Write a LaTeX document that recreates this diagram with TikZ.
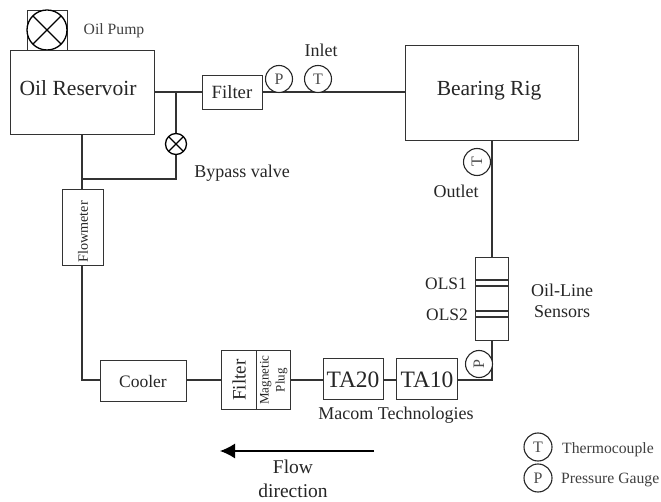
\documentclass[tikz,border=0pt]{standalone}
\usepackage{fontspec}
\setmainfont{Liberation Serif}
\usetikzlibrary{arrows.meta,positioning,calc}
\tikzset{
    pipe/.style={draw=black!80,line width=1.2pt},
    unit/.style={draw=black!80,line width=1.2pt,inner sep=0pt,anchor=north west,text=black!85,font=\fontsize{18.5}{18.5}\selectfont},
    gauge/.style={circle,draw=black!85,line width=1.1pt,fill=white,inner sep=0pt,minimum size=27pt,text=black!70,font=\fontsize{16}{16}\selectfont},
    valve/.style={circle,draw=black,line width=1.3pt,fill=white,inner sep=0pt,path picture={
        \draw [line width=1.3pt] (path picture bounding box.north west) -- (path picture bounding box.south east);
        \draw [line width=1.3pt] (path picture bounding box.north east) -- (path picture bounding box.south west);}},
    lab/.style={anchor=base,inner sep=0pt,text=black!85,font=\fontsize{18}{18}\selectfont},
    smalllab/.style={anchor=base,inner sep=0pt,text=black!75,font=\fontsize{15.7}{15.7}\selectfont},
}
\begin{document}
\begin{tikzpicture}[x=1pt,y=-1pt]
    \useasboundingbox (0,0) rectangle (661,502);

    \node [unit,minimum width=40pt,minimum height=40pt] (pumpbox) at (27,10) {};
    \node [valve,minimum size=40pt] (pump) at (47,30) {};
    \node [unit,minimum width=144pt,minimum height=84pt] (reservoir) at (10,50) {};
    \node [lab,font=\fontsize{21.6}{21.6}\selectfont] (reservoirtext) at (78,96) {Oil Reservoir};
    \node [unit,minimum width=60pt,minimum height=34pt] (filtera) at (202,75) {};
    \node [lab,font=\fontsize{18.7}{18.7}\selectfont] (filteratext) at (232,99) {Filter};
    \node [unit,minimum width=173pt,minimum height=95pt] (rig) at (405,45) {};
    \node [lab,font=\fontsize{21.5}{21.5}\selectfont] (rigtext) at (489,96) {Bearing Rig};
    \node [unit,minimum width=41pt,minimum height=76pt] (flowmeter) at (62,189) {};
    \node [lab,anchor=center,rotate=90,font=\fontsize{14.2}{14.2}\selectfont] (flowmetertext) at (83,232) {Flowmeter};
    \node [unit,minimum width=86pt,minimum height=41pt] (cooler) at (100,360) {};
    \node [lab,font=\fontsize{17.5}{17.5}\selectfont] (coolertext) at (143,387) {Cooler};
    \node [unit,minimum width=35pt,minimum height=59pt] (filterb) at (221,350) {\rotatebox{90}{\fontsize{19}{19}\selectfont Filter}};
    \node [unit,minimum width=34pt,minimum height=59pt] (plug) at (256,350) {\rotatebox{90}{\parbox{55pt}{\centering\fontsize{13}{16}\selectfont Magnetic\\Plug}}};
    \node [unit,minimum width=60pt,minimum height=41pt] (taa) at (323,358) {};
    \node [lab,font=\fontsize{23.5}{23.5}\selectfont] (taatext) at (353,388) {TA20};
    \node [unit,minimum width=61pt,minimum height=41pt] (tab) at (396,358) {};
    \node [lab,font=\fontsize{23.5}{23.5}\selectfont] (tabtext) at (427,388) {TA10};
    \node [unit,minimum width=33pt,minimum height=83pt] (sensors) at (475,257) {};

    % lines
    \coordinate (flowline) at (0,380);
    \coordinate (inline) at (0,92);
    \coordinate (leftline) at (82,0);
    \coordinate (bypasstop) at (176,92);
    \coordinate (bypassbot) at (176,179);
    \coordinate (tee) at (82,179);
    \coordinate (corner) at (82,380);
    \coordinate (bend) at (492,380);
    \coordinate (rigout) at (492,140);
    \coordinate (sensin) at (492,257);
    \coordinate (sensout) at (492,340);

    \draw [pipe] (reservoir.east |- inline) -- (filtera.west |- inline);
    \draw [pipe] (filtera.east |- inline) -- (rig.west |- inline);
    \draw [pipe] (bypasstop) -- (bypassbot) -- (tee);
    \draw [pipe] (leftline |- reservoir.south) -- (leftline |- flowmeter.north);
    \draw [pipe] (leftline |- flowmeter.south) -- (corner) -- (cooler.west |- flowline);
    \draw [pipe] (cooler.east |- flowline) -- (filterb.west |- flowline);
    \draw [pipe] (plug.east |- flowline) -- (taa.west |- flowline);
    \draw [pipe] (taa.east |- flowline) -- (tab.west |- flowline);
    \draw [pipe] (tab.east |- flowline) -- (bend) -- (sensout);
    \draw [pipe] (sensin) -- (rigout);

    \node [valve,minimum size=21pt] (bypass) at (176,144) {};
    \node [gauge] (pa) at (279,79) {P};
    \node [gauge] (ta) at (318,79) {T};
    \node [gauge,rotate=90] (tb) at (477,162) {T};
    \node [gauge,rotate=90] (pb) at (479,364) {P};

    \foreach \y in {280,286,311,317}
    {
        \draw [pipe] (475,\y) -- (508,\y);
    }

    \node [smalllab] (pumptext) at (114,35) {Oil Pump};
    \node [lab] (inlet) at (321,57) {Inlet};
    \node [lab] (bypasstext) at (242,178) {Bypass valve};
    \node [lab] (outlet) at (456,198) {Outlet};
    \node [lab,font=\fontsize{17.4}{17.4}\selectfont] (olsa) at (446,290) {OLS1};
    \node [lab,font=\fontsize{17.4}{17.4}\selectfont] (olsb) at (447,321) {OLS2};
    \node [lab] (olsc) at (562,297) {Oil-Line};
    \node [lab] (olsd) at (562,318) {Sensors};
    \node [lab] (macom) at (396,419) {Macom Technologies};
    \node [lab,font=\fontsize{19.5}{19.5}\selectfont] (flow) at (293,473) {Flow};
    \node [lab,font=\fontsize{19.5}{19.5}\selectfont] (direction) at (293,497) {direction};

    \coordinate (flowa) at (374,451);
    \coordinate (flowb) at (220,451);
    \draw [line width=1.3pt,-{Latex[length=15pt,width=15pt]}] (flowa) -- (flowb);

    \node [gauge,minimum size=28pt] (legt) at (538,447) {T};
    \node [gauge,minimum size=28pt] (legp) at (538,478) {P};
    \node [smalllab,anchor=base west] (legta) at (562,453) {Thermocouple};
    \node [smalllab,anchor=base west] (legpa) at (561,483) {Pressure Gauge};
\end{tikzpicture}
\end{document}
